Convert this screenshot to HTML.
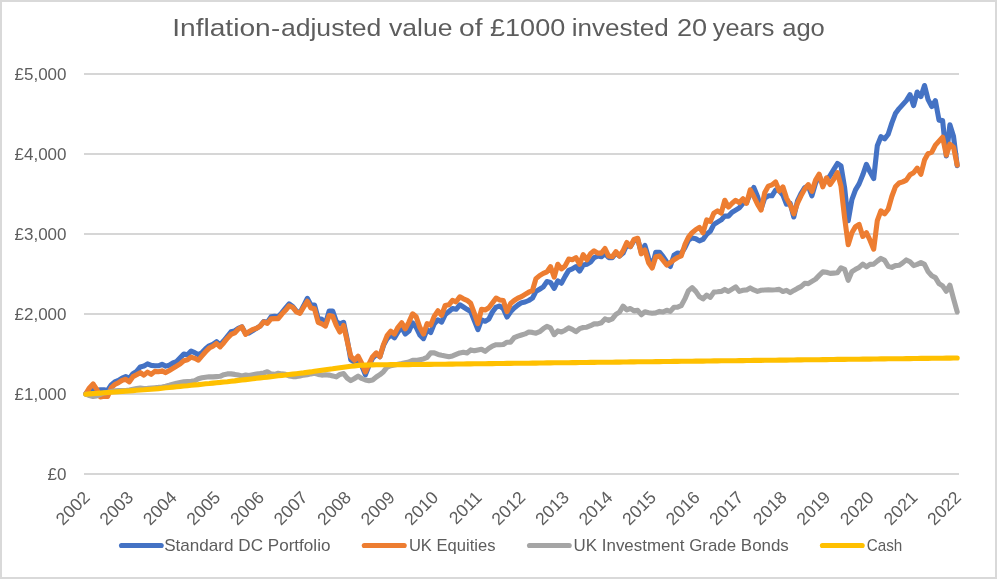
<!DOCTYPE html>
<html lang="en"><head><meta charset="utf-8"><title>Inflation-adjusted value of £1000 invested 20 years ago</title>
<style>
html,body{margin:0;padding:0;background:#fff;}
body{width:997px;height:579px;overflow:hidden;}
svg{display:block;}
text{font-family:"Liberation Sans", "DejaVu Sans", sans-serif;fill:#5d5d5d;}
.ser{fill:none;stroke-width:5.1;stroke-linejoin:round;stroke-linecap:round;}
.sw{fill:none;stroke-width:5.1;stroke-linecap:round;}
</style></head><body>
<svg width="997" height="579" viewBox="0 0 997 579">
<rect x="0" y="0" width="997" height="579" fill="#d9d9d9"/>
<rect x="2" y="2" width="993" height="575" fill="#ffffff"/>
<text y="35.6" font-size="24.2"><tspan x="172.20" textLength="98.50" lengthAdjust="spacingAndGlyphs">Inflation</tspan><tspan x="271.00" textLength="9.20" lengthAdjust="spacingAndGlyphs">-</tspan><tspan x="280.90" textLength="100.50" lengthAdjust="spacingAndGlyphs">adjusted</tspan> <tspan x="389.00" textLength="63.40" lengthAdjust="spacingAndGlyphs">value</tspan> <tspan x="459.10" textLength="23.50" lengthAdjust="spacingAndGlyphs">of</tspan> <tspan x="490.00" textLength="75.30" lengthAdjust="spacingAndGlyphs">£1000</tspan> <tspan x="571.80" textLength="97.00" lengthAdjust="spacingAndGlyphs">invested</tspan> <tspan x="677.00" textLength="30.20" lengthAdjust="spacingAndGlyphs">20</tspan> <tspan x="712.80" textLength="61.70" lengthAdjust="spacingAndGlyphs">years</tspan> <tspan x="782.20" textLength="42.60" lengthAdjust="spacingAndGlyphs">ago</tspan></text>
<rect x="84" y="473" width="875" height="2" fill="#d6d6d6"/>
<text x="66.5" y="480" font-size="17" text-anchor="end">£0</text>
<rect x="84" y="393" width="875" height="2" fill="#d6d6d6"/>
<text x="66.5" y="400" font-size="17" text-anchor="end">£1,000</text>
<rect x="84" y="313" width="875" height="2" fill="#d6d6d6"/>
<text x="66.5" y="320" font-size="17" text-anchor="end">£2,000</text>
<rect x="84" y="233" width="875" height="2" fill="#d6d6d6"/>
<text x="66.5" y="240" font-size="17" text-anchor="end">£3,000</text>
<rect x="84" y="153" width="875" height="2" fill="#d6d6d6"/>
<text x="66.5" y="160" font-size="17" text-anchor="end">£4,000</text>
<rect x="84" y="73" width="875" height="2" fill="#d6d6d6"/>
<text x="66.5" y="80" font-size="17" text-anchor="end">£5,000</text>
<text transform="translate(90.8,498.5) rotate(-45)" font-size="17.6" text-anchor="end">2002</text>
<text transform="translate(134.4,498.5) rotate(-45)" font-size="17.6" text-anchor="end">2003</text>
<text transform="translate(177.9,498.5) rotate(-45)" font-size="17.6" text-anchor="end">2004</text>
<text transform="translate(221.5,498.5) rotate(-45)" font-size="17.6" text-anchor="end">2005</text>
<text transform="translate(265.1,498.5) rotate(-45)" font-size="17.6" text-anchor="end">2006</text>
<text transform="translate(308.6,498.5) rotate(-45)" font-size="17.6" text-anchor="end">2007</text>
<text transform="translate(352.2,498.5) rotate(-45)" font-size="17.6" text-anchor="end">2008</text>
<text transform="translate(395.8,498.5) rotate(-45)" font-size="17.6" text-anchor="end">2009</text>
<text transform="translate(439.3,498.5) rotate(-45)" font-size="17.6" text-anchor="end">2010</text>
<text transform="translate(482.9,498.5) rotate(-45)" font-size="17.6" text-anchor="end">2011</text>
<text transform="translate(526.5,498.5) rotate(-45)" font-size="17.6" text-anchor="end">2012</text>
<text transform="translate(570.1,498.5) rotate(-45)" font-size="17.6" text-anchor="end">2013</text>
<text transform="translate(613.6,498.5) rotate(-45)" font-size="17.6" text-anchor="end">2014</text>
<text transform="translate(657.2,498.5) rotate(-45)" font-size="17.6" text-anchor="end">2015</text>
<text transform="translate(700.8,498.5) rotate(-45)" font-size="17.6" text-anchor="end">2016</text>
<text transform="translate(744.3,498.5) rotate(-45)" font-size="17.6" text-anchor="end">2017</text>
<text transform="translate(787.9,498.5) rotate(-45)" font-size="17.6" text-anchor="end">2018</text>
<text transform="translate(831.5,498.5) rotate(-45)" font-size="17.6" text-anchor="end">2019</text>
<text transform="translate(875.0,498.5) rotate(-45)" font-size="17.6" text-anchor="end">2020</text>
<text transform="translate(918.6,498.5) rotate(-45)" font-size="17.6" text-anchor="end">2021</text>
<text transform="translate(962.2,498.5) rotate(-45)" font-size="17.6" text-anchor="end">2022</text>
<polyline class="ser" stroke="#4472c4" points="85.8,393.9 89.4,390.2 93.1,389.4 96.7,390.2 100.3,389.8 104.0,389.8 107.6,390.5 111.2,384.9 114.8,381.9 118.5,380.4 122.1,378.1 125.7,376.6 129.4,378.4 133.0,373.6 136.6,371.4 140.3,366.9 143.9,366.1 147.5,363.9 151.2,365.4 154.8,365.8 158.4,365.8 162.0,364.3 165.7,366.1 169.3,365.2 172.9,363.0 176.6,361.6 180.2,357.8 183.8,354.1 187.5,354.8 191.1,351.1 194.7,352.6 198.4,354.8 202.0,352.6 205.6,348.8 209.2,345.8 212.9,344.3 216.5,341.7 220.1,345.0 223.8,340.8 227.4,336.3 231.0,331.8 234.7,330.9 238.3,328.4 241.9,326.9 245.6,333.6 249.2,332.9 252.8,330.6 256.4,328.4 260.1,326.1 263.7,321.6 267.3,322.3 271.0,316.8 274.6,316.3 278.2,316.8 281.9,312.6 285.5,308.1 289.1,303.8 292.8,306.5 296.4,311.1 300.0,312.6 303.6,305.8 307.3,298.3 310.9,305.0 314.5,305.0 318.2,318.6 321.8,319.3 325.4,323.9 329.1,311.1 332.7,311.1 336.3,321.6 339.9,323.9 343.6,322.3 347.2,339.6 350.8,359.8 354.5,362.1 358.1,358.7 361.7,365.5 365.4,374.9 369.0,365.5 372.6,358.2 376.3,354.4 379.9,356.7 383.5,345.4 387.1,338.6 390.8,334.9 394.4,337.9 398.0,331.9 401.7,327.3 405.3,334.1 408.9,331.1 412.6,322.8 416.2,327.3 419.8,334.9 423.5,338.6 427.1,329.6 430.7,332.6 434.3,323.6 438.0,319.8 441.6,322.1 445.2,314.6 448.9,311.5 452.5,308.5 456.1,309.3 459.8,304.8 463.4,307.0 467.0,309.3 470.7,311.5 474.3,320.6 477.9,329.6 481.5,319.8 485.2,321.3 488.8,319.1 492.4,312.0 496.1,307.1 499.7,306.0 503.3,308.7 507.0,317.0 510.6,311.7 514.2,308.0 517.9,305.0 521.5,302.7 525.1,302.0 528.7,300.5 532.4,298.2 536.0,291.4 539.6,289.2 543.3,286.9 546.9,281.6 550.5,282.4 554.2,288.4 557.8,280.9 561.4,283.2 565.1,276.4 568.7,270.4 572.3,268.9 575.9,266.6 579.6,271.1 583.2,265.1 586.8,264.3 590.5,262.1 594.1,257.6 597.7,256.1 601.4,256.8 605.0,253.8 608.6,257.6 612.3,257.6 615.9,253.1 619.5,256.1 623.1,253.1 626.8,244.8 630.4,246.6 634.0,240.6 637.7,239.1 641.3,252.6 644.9,245.4 648.6,258.2 652.2,266.5 655.8,252.2 659.5,252.2 663.1,256.7 666.7,262.0 670.3,266.5 674.0,255.2 677.6,253.0 681.2,253.7 684.9,247.7 688.5,240.2 692.1,237.9 695.8,238.7 699.4,240.9 703.0,239.4 706.7,234.2 710.3,231.2 713.9,224.4 717.5,222.1 721.2,219.9 724.8,216.1 728.4,216.1 732.1,212.3 735.7,210.1 739.3,207.8 743.0,203.3 746.6,202.6 750.2,193.5 753.8,187.5 757.5,196.5 761.1,208.6 764.7,198.1 768.4,195.8 772.0,195.8 775.6,190.0 779.3,190.6 782.9,195.1 786.5,204.2 790.2,203.4 793.8,217.0 797.4,201.2 801.0,193.6 804.7,187.6 808.3,186.1 811.9,195.9 815.6,183.1 819.2,175.6 822.8,184.6 826.5,180.1 830.1,175.6 833.7,169.6 837.4,163.5 841.0,165.8 844.6,187.6 848.2,220.7 851.9,199.6 855.5,189.9 859.1,183.9 862.8,174.8 866.4,164.3 870.0,171.8 873.7,178.6 877.3,145.7 880.9,136.7 884.6,138.9 888.2,134.2 891.8,123.1 895.4,113.6 899.1,108.6 902.7,104.6 906.3,100.6 910.0,94.6 913.6,105.6 917.2,92.0 920.9,96.6 924.5,85.5 928.1,99.6 931.8,106.6 935.4,100.6 939.0,120.1 942.6,120.6 946.3,156.0 949.9,124.8 953.5,136.3 957.2,165.6"/>
<polyline class="ser" stroke="#ed7d31" points="85.8,393.9 89.4,387.9 93.1,383.9 96.7,389.4 100.3,397.0 104.0,396.2 107.6,396.5 111.2,387.9 114.8,384.5 118.5,382.7 122.1,380.4 125.7,379.3 129.4,381.9 133.0,376.6 136.6,374.8 140.3,372.6 143.9,375.1 147.5,372.1 151.2,374.4 154.8,371.4 158.4,371.8 162.0,370.9 165.7,372.6 169.3,370.6 172.9,368.4 176.6,366.1 180.2,363.9 183.8,360.8 187.5,359.8 191.1,357.1 194.7,358.3 198.4,360.1 202.0,355.9 205.6,351.8 209.2,348.1 212.9,346.2 216.5,343.5 220.1,346.9 223.8,342.7 227.4,338.2 231.0,334.4 234.7,332.9 238.3,329.1 241.9,326.9 245.6,334.4 249.2,331.4 252.8,329.4 256.4,328.4 260.1,326.1 263.7,321.9 267.3,323.4 271.0,318.9 274.6,318.6 278.2,318.6 281.9,314.1 285.5,310.3 289.1,305.8 292.8,307.3 296.4,311.8 300.0,313.3 303.6,307.3 307.3,301.3 310.9,308.1 314.5,308.8 318.2,322.3 321.8,323.9 325.4,326.1 329.1,315.6 332.7,316.3 336.3,325.4 339.9,332.1 343.6,325.4 347.2,341.2 350.8,356.4 354.5,360.2 358.1,356.1 361.7,363.2 365.4,371.9 369.0,364.0 372.6,356.7 376.3,352.9 379.9,356.7 383.5,344.6 387.1,335.6 390.8,331.1 394.4,334.1 398.0,327.3 401.7,322.8 405.3,328.9 408.9,322.1 412.6,313.8 416.2,316.8 419.8,327.3 423.5,334.1 427.1,323.6 430.7,325.1 434.3,316.1 438.0,310.8 441.6,315.3 445.2,305.5 448.9,304.8 452.5,300.3 456.1,301.8 459.8,296.8 463.4,298.8 467.0,300.3 470.7,303.3 474.3,313.1 477.9,323.6 481.5,309.3 485.2,310.0 488.8,307.8 492.4,303.0 496.1,298.1 499.7,300.0 503.3,300.5 507.0,311.7 510.6,303.5 514.2,300.5 517.9,298.2 521.5,296.7 525.1,294.4 528.7,292.2 532.4,290.7 536.0,278.6 539.6,275.6 543.3,273.4 546.9,271.9 550.5,266.6 554.2,277.1 557.8,264.3 561.4,268.9 565.1,265.9 568.7,259.1 572.3,259.8 575.9,257.6 579.6,264.3 583.2,254.6 586.8,259.8 590.5,253.8 594.1,250.8 597.7,253.1 601.4,253.1 605.0,248.5 608.6,256.1 612.3,256.8 615.9,251.6 619.5,256.1 623.1,250.8 626.8,242.5 630.4,246.6 634.0,239.5 637.7,238.3 641.3,253.8 644.9,250.0 648.6,262.7 652.2,268.0 655.8,256.7 659.5,256.0 663.1,260.5 666.7,265.0 670.3,262.7 674.0,259.7 677.6,257.5 681.2,256.0 684.9,244.7 688.5,237.2 692.1,232.7 695.8,229.6 699.4,227.4 703.0,232.7 706.7,219.9 710.3,221.4 713.9,213.1 717.5,210.8 721.2,213.1 724.8,200.3 728.4,207.1 732.1,203.3 735.7,200.3 739.3,202.6 743.0,198.8 746.6,203.3 750.2,189.8 753.8,196.5 757.5,204.1 761.1,210.1 764.7,192.8 768.4,186.1 772.0,184.9 775.6,181.9 779.3,191.0 782.9,186.9 786.5,198.1 790.2,204.9 793.8,213.9 797.4,203.4 801.0,195.9 804.7,189.1 808.3,184.6 811.9,191.4 815.6,180.1 819.2,174.1 822.8,186.9 826.5,177.8 830.1,184.6 833.7,179.3 837.4,172.6 841.0,186.1 844.6,217.7 848.2,244.7 851.9,232.7 855.5,226.6 859.1,224.4 862.8,236.4 866.4,232.7 870.0,240.2 873.7,249.2 877.3,220.6 880.9,210.8 884.6,213.9 888.2,209.3 891.8,196.5 895.4,186.8 899.1,183.0 902.7,181.9 906.3,180.1 910.0,174.7 913.6,172.7 917.2,168.1 920.9,174.2 924.5,160.1 928.1,153.6 931.8,152.1 935.4,145.1 939.0,141.1 942.6,137.1 946.3,155.1 949.9,144.1 953.5,147.1 957.2,165.1"/>
<polyline class="ser" stroke="#a5a5a5" points="85.8,394.2 89.4,395.5 93.1,396.5 96.7,396.0 100.3,394.5 104.0,393.0 107.6,392.5 111.2,391.4 114.8,390.8 118.5,390.6 122.1,390.6 125.7,390.5 129.4,390.0 133.0,389.3 136.6,388.6 140.3,388.0 143.9,388.5 147.5,388.3 151.2,388.0 154.8,387.7 158.4,387.4 162.0,387.0 165.7,386.3 169.3,385.3 172.9,384.2 176.6,383.2 180.2,382.5 183.8,381.8 187.5,381.5 191.1,381.2 194.7,380.8 198.4,378.8 202.0,377.8 205.6,377.3 209.2,376.8 212.9,376.9 216.5,376.6 220.1,376.3 223.8,374.7 227.4,373.9 231.0,373.9 234.7,374.4 238.3,375.1 241.9,375.9 245.6,375.1 249.2,375.6 252.8,374.8 256.4,374.1 260.1,373.6 263.7,372.9 267.3,371.8 271.0,373.9 274.6,374.4 278.2,373.3 281.9,373.9 285.5,374.4 289.1,375.9 292.8,376.6 296.4,376.6 300.0,375.9 303.6,375.1 307.3,374.8 310.9,373.9 314.5,373.3 318.2,374.4 321.8,375.1 325.4,374.8 329.1,375.1 332.7,375.9 336.3,376.9 339.9,374.4 343.6,373.6 347.2,378.1 350.8,380.6 354.5,378.5 358.1,376.2 361.7,378.5 365.4,380.0 369.0,380.8 372.6,380.0 376.3,377.0 379.9,374.7 383.5,371.7 387.1,367.2 390.8,365.7 394.4,365.0 398.0,364.2 401.7,363.5 405.3,362.7 408.9,362.0 412.6,360.4 416.2,360.4 419.8,359.7 423.5,358.9 427.1,357.4 430.7,352.9 434.3,352.9 438.0,354.4 441.6,355.2 445.2,355.9 448.9,356.7 452.5,355.9 456.1,354.4 459.8,352.9 463.4,352.2 467.0,352.9 470.7,349.9 474.3,350.7 477.9,349.9 481.5,349.2 485.2,351.4 488.8,348.4 492.4,346.1 496.1,344.7 499.7,344.7 503.3,344.5 507.0,342.2 510.6,342.2 514.2,337.7 517.9,336.2 521.5,335.0 525.1,333.9 528.7,332.0 532.4,332.4 536.0,333.2 539.6,331.7 543.3,328.7 546.9,326.4 550.5,327.9 554.2,334.7 557.8,330.9 561.4,332.0 565.1,330.2 568.7,327.9 572.3,329.4 575.9,331.7 579.6,328.7 583.2,327.5 586.8,327.2 590.5,325.7 594.1,323.9 597.7,323.9 601.4,322.7 605.0,318.9 608.6,320.4 612.3,318.9 615.9,314.4 619.5,312.1 623.1,306.1 626.8,309.9 630.4,308.5 634.0,310.9 637.7,310.4 641.3,314.7 644.9,311.7 648.6,312.7 652.2,313.2 655.8,312.9 659.5,311.4 663.1,312.0 666.7,310.2 670.3,311.4 674.0,307.2 677.6,307.2 681.2,305.7 684.9,298.9 688.5,290.6 692.1,287.6 695.8,291.4 699.4,296.6 703.0,298.9 706.7,295.1 710.3,297.4 713.9,292.1 717.5,291.8 721.2,291.4 724.8,289.4 728.4,291.4 732.1,289.1 735.7,286.9 739.3,291.4 743.0,290.3 746.6,289.9 750.2,287.9 753.8,289.9 757.5,291.4 761.1,290.3 764.7,290.0 768.4,289.8 772.0,290.0 775.6,289.8 779.3,289.4 782.9,291.5 786.5,290.4 790.2,292.7 793.8,290.4 797.4,288.4 801.0,286.6 804.7,283.3 808.3,283.6 811.9,281.4 815.6,279.1 819.2,275.4 822.8,271.9 826.5,272.3 830.1,273.4 833.7,273.1 837.4,272.8 841.0,267.8 844.6,269.3 848.2,280.3 851.9,271.6 855.5,269.3 859.1,267.4 862.8,264.1 866.4,266.8 870.0,264.4 873.7,264.1 877.3,261.1 880.9,258.4 884.6,260.3 888.2,266.3 891.8,267.4 895.4,265.6 899.1,265.3 902.7,262.9 906.3,259.9 910.0,261.8 913.6,265.6 917.2,264.4 920.9,262.6 924.5,264.4 928.1,271.6 931.8,275.8 935.4,277.6 939.0,283.6 942.6,285.9 946.3,291.2 949.9,285.1 953.5,298.7 957.2,311.9"/>
<polyline class="ser" stroke="#ffc000" points="85.8,394.2 89.4,393.9 93.1,393.6 96.7,393.4 100.3,393.1 104.0,392.8 107.6,392.5 111.2,392.3 114.8,392.0 118.5,391.7 122.1,391.4 125.7,391.1 129.4,390.9 133.0,390.6 136.6,390.3 140.3,390.0 143.9,389.8 147.5,389.5 151.2,389.2 154.8,388.9 158.4,388.6 162.0,388.2 165.7,387.8 169.3,387.5 172.9,387.1 176.6,386.7 180.2,386.4 183.8,386.0 187.5,385.7 191.1,385.3 194.7,384.9 198.4,384.6 202.0,384.2 205.6,383.8 209.2,383.5 212.9,383.1 216.5,382.7 220.1,382.4 223.8,382.0 227.4,381.7 231.0,381.3 234.7,380.9 238.3,380.4 241.9,380.0 245.6,379.6 249.2,379.2 252.8,378.8 256.4,378.3 260.1,377.9 263.7,377.5 267.3,377.1 271.0,376.6 274.6,376.2 278.2,375.8 281.9,375.4 285.5,375.0 289.1,374.5 292.8,374.1 296.4,373.7 300.0,373.3 303.6,372.9 307.3,372.4 310.9,371.9 314.5,371.3 318.2,370.8 321.8,370.3 325.4,369.8 329.1,369.3 332.7,368.8 336.3,368.2 339.9,367.7 343.6,367.2 347.2,366.7 350.8,366.3 354.5,365.9 358.1,365.4 361.7,365.2 365.4,365.1 369.0,365.0 372.6,364.9 376.3,364.8 379.9,364.7 383.5,364.7 387.1,364.7 390.8,364.6 394.4,364.6 398.0,364.6 401.7,364.6 405.3,364.6 408.9,364.6 412.6,364.5 416.2,364.5 419.8,364.5 423.5,364.5 427.1,364.4 430.7,364.4 434.3,364.3 438.0,364.3 441.6,364.2 445.2,364.2 448.9,364.1 452.5,364.1 456.1,364.0 459.8,364.0 463.4,364.0 467.0,363.9 470.7,363.9 474.3,363.8 477.9,363.8 481.5,363.7 485.2,363.7 488.8,363.6 492.4,363.6 496.1,363.5 499.7,363.5 503.3,363.5 507.0,363.4 510.6,363.4 514.2,363.3 517.9,363.3 521.5,363.2 525.1,363.2 528.7,363.2 532.4,363.1 536.0,363.1 539.6,363.0 543.3,363.0 546.9,362.9 550.5,362.9 554.2,362.8 557.8,362.8 561.4,362.8 565.1,362.7 568.7,362.7 572.3,362.6 575.9,362.6 579.6,362.5 583.2,362.5 586.8,362.5 590.5,362.4 594.1,362.4 597.7,362.3 601.4,362.3 605.0,362.2 608.6,362.2 612.3,362.2 615.9,362.1 619.5,362.1 623.1,362.0 626.8,362.0 630.4,361.9 634.0,361.9 637.7,361.8 641.3,361.8 644.9,361.8 648.6,361.7 652.2,361.7 655.8,361.6 659.5,361.6 663.1,361.5 666.7,361.5 670.3,361.5 674.0,361.4 677.6,361.4 681.2,361.3 684.9,361.3 688.5,361.2 692.1,361.2 695.8,361.1 699.4,361.1 703.0,361.1 706.7,361.0 710.3,361.0 713.9,360.9 717.5,360.9 721.2,360.8 724.8,360.8 728.4,360.8 732.1,360.7 735.7,360.7 739.3,360.6 743.0,360.6 746.6,360.5 750.2,360.5 753.8,360.4 757.5,360.4 761.1,360.4 764.7,360.3 768.4,360.3 772.0,360.2 775.6,360.2 779.3,360.1 782.9,360.1 786.5,360.1 790.2,360.0 793.8,360.0 797.4,359.9 801.0,359.9 804.7,359.8 808.3,359.8 811.9,359.7 815.6,359.7 819.2,359.7 822.8,359.6 826.5,359.6 830.1,359.5 833.7,359.5 837.4,359.4 841.0,359.4 844.6,359.4 848.2,359.3 851.9,359.3 855.5,359.2 859.1,359.2 862.8,359.1 866.4,359.1 870.0,359.1 873.7,359.0 877.3,359.0 880.9,358.9 884.6,358.9 888.2,358.8 891.8,358.8 895.4,358.7 899.1,358.7 902.7,358.7 906.3,358.6 910.0,358.6 913.6,358.5 917.2,358.5 920.9,358.4 924.5,358.4 928.1,358.4 931.8,358.3 935.4,358.3 939.0,358.2 942.6,358.2 946.3,358.1 949.9,358.1 953.5,358.0 957.2,358.0"/>
<line class="sw" x1="121.5" y1="545.5" x2="161.2" y2="545.5" stroke="#4472c4"/>
<text x="164.2" y="551" font-size="17" textLength="166.3" lengthAdjust="spacingAndGlyphs">Standard DC Portfolio</text>
<line class="sw" x1="364.3" y1="545.5" x2="404.2" y2="545.5" stroke="#ed7d31"/>
<text x="408.9" y="551" font-size="17" textLength="86.6" lengthAdjust="spacingAndGlyphs">UK Equities</text>
<line class="sw" x1="529.5" y1="545.5" x2="569.2" y2="545.5" stroke="#a5a5a5"/>
<text x="573.6" y="551" font-size="17" textLength="215.2" lengthAdjust="spacingAndGlyphs">UK Investment Grade Bonds</text>
<line class="sw" x1="822.4" y1="545.5" x2="862.2" y2="545.5" stroke="#ffc000"/>
<text x="866.7" y="551" font-size="17" textLength="35.6" lengthAdjust="spacingAndGlyphs">Cash</text>
</svg></body></html>
